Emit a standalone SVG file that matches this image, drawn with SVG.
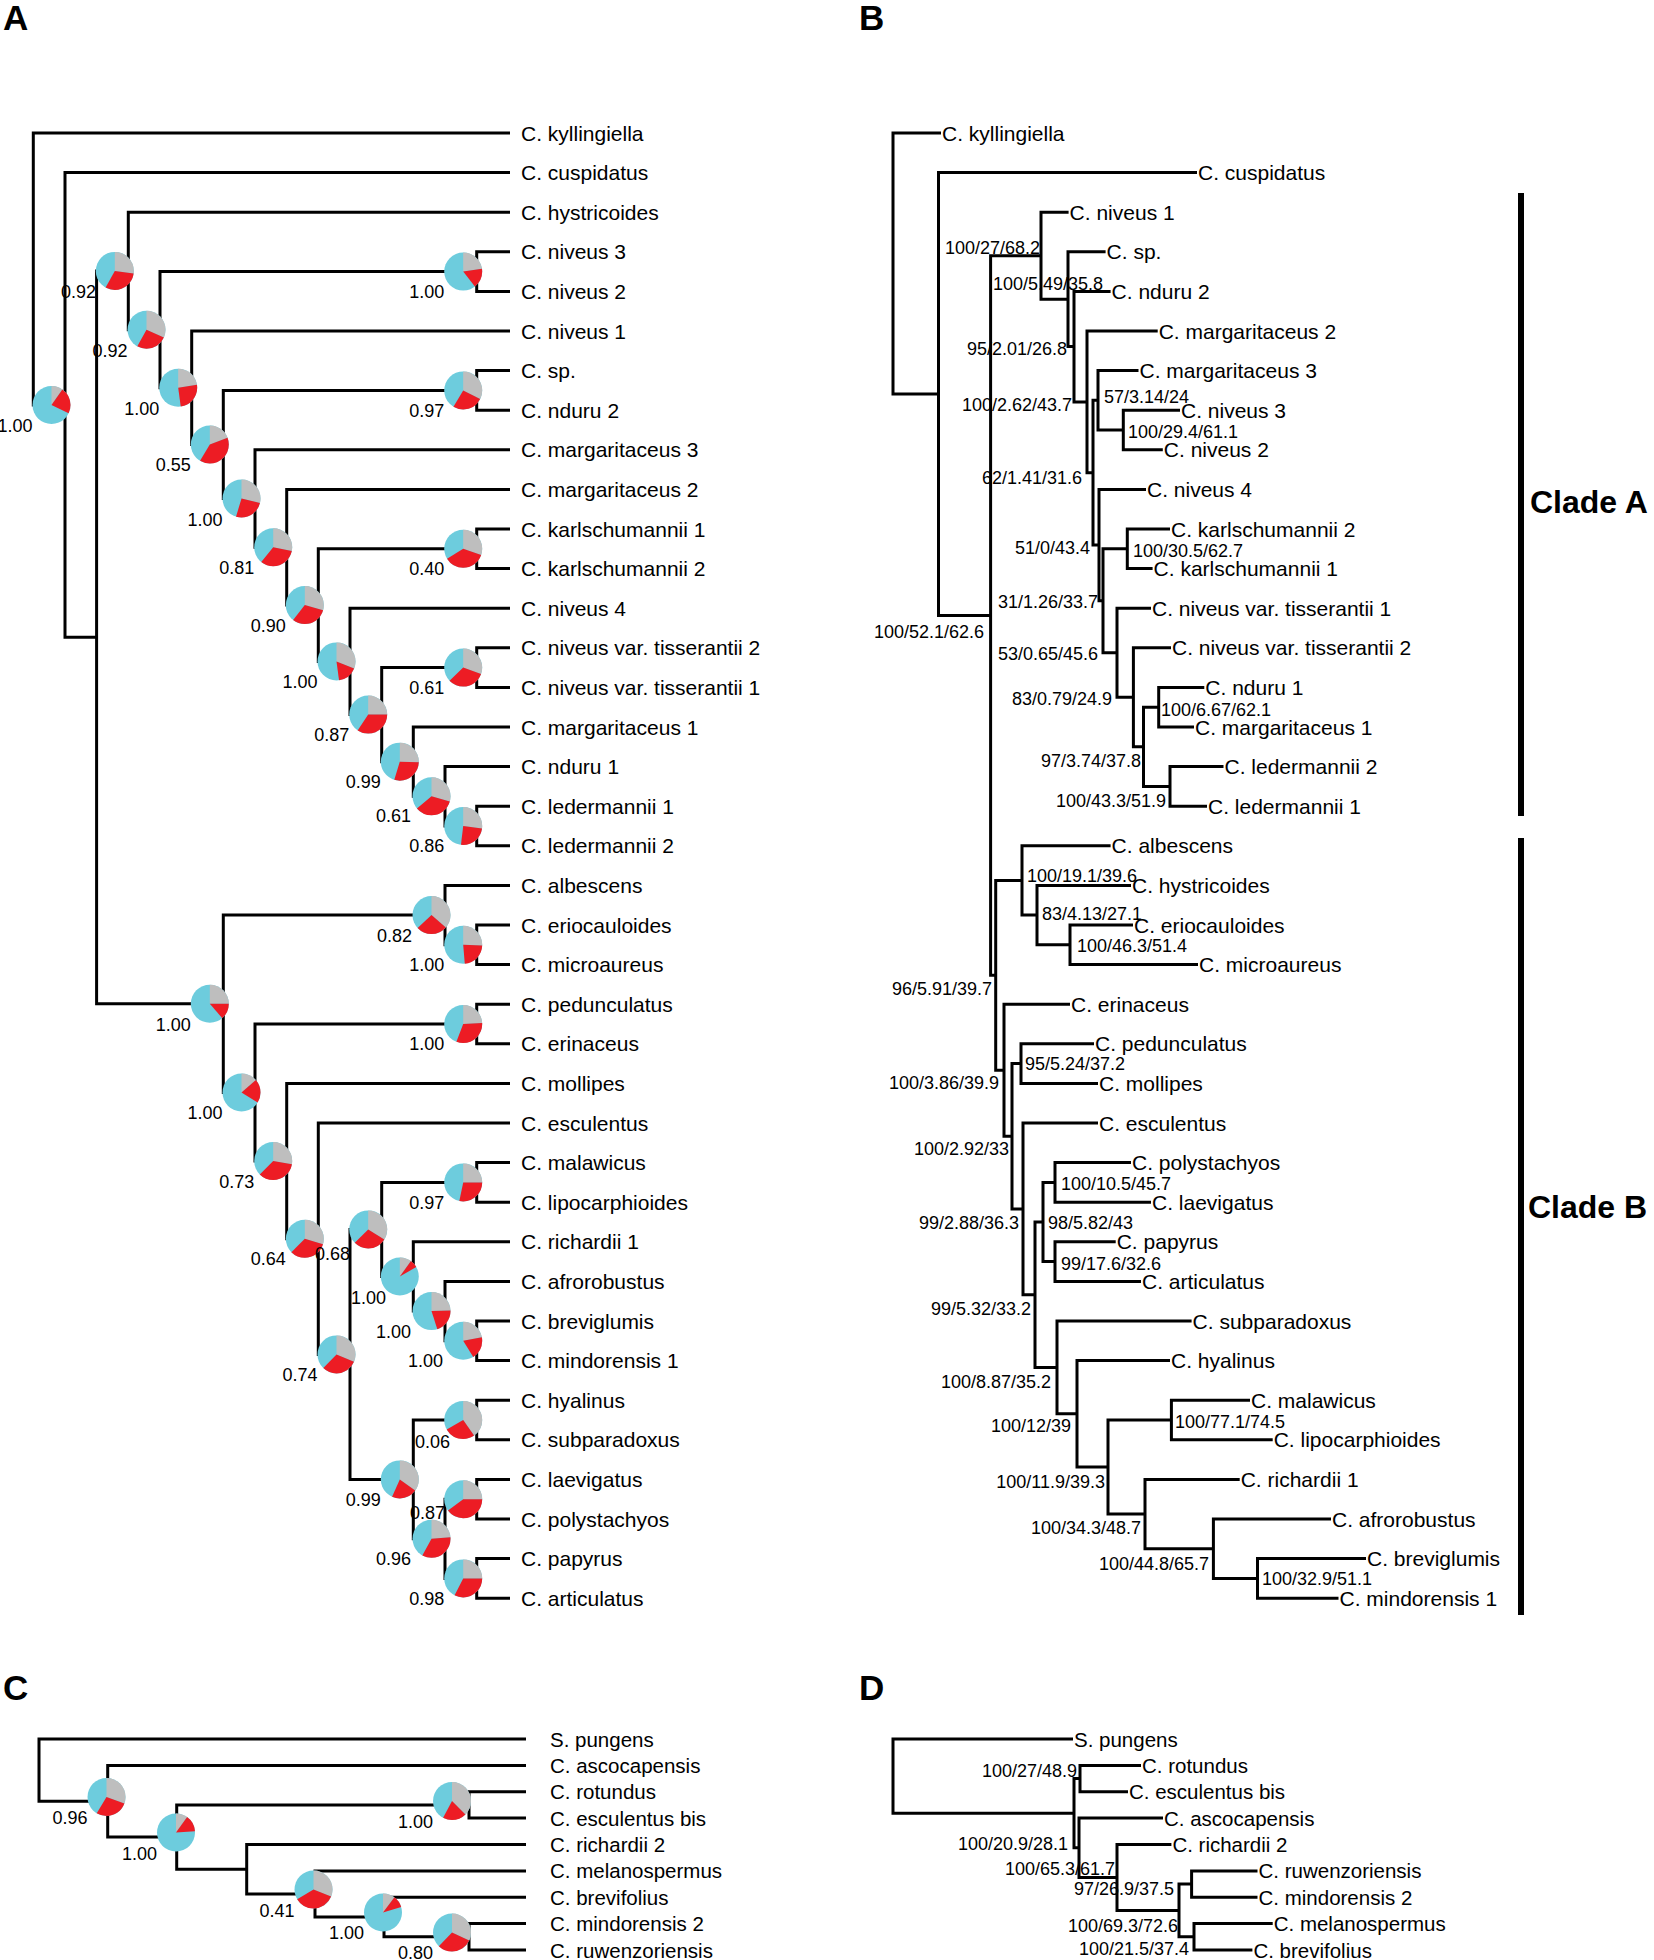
<svg xmlns="http://www.w3.org/2000/svg" width="1654" height="1960" viewBox="0 0 1654 1960">
<style>
text{font-family:"Liberation Sans",Arial,sans-serif;fill:#000}
.ln{fill:none;stroke:#000;stroke-width:3;stroke-linejoin:miter}
.lf{font-size:21px}
.lc{font-size:20.5px}
.bl{font-size:18px;text-anchor:end}
.bs{font-size:18px}
.be{font-size:18px;text-anchor:end}
.pl{font-size:35px;font-weight:bold}
.cl{font-size:32px;font-weight:bold}
.pb{fill:#6DCCDD}
.pg{fill:none;stroke:#BEBEBE;stroke-width:19}
.pr{fill:none;stroke:#ED1C24;stroke-width:19}
</style>
<rect width="1654" height="1960" fill="#fff"/>
<g id="panel-letters">
<text class="pl" x="3" y="30">A</text>
<text class="pl" x="859" y="30">B</text>
<text class="pl" x="3" y="1700">C</text>
<text class="pl" x="859" y="1700">D</text>
</g>
<g id="connectors">
<g id="A-connectors" class="ln">
<path d="M510,133 H33.3 V405 H65"/>
<path d="M510,172.6 H65 V637.35 H96.6"/>
<path d="M128.3,270.9 H96.6 V1003.8 H223.3"/>
<path d="M510,212.2 H128.3 V329.7 H160"/>
<path d="M476.7,271.6 H160 V387.7 H191.7"/>
<path d="M510,251.8 H476.7 V291.4 H510"/>
<path d="M510,331 H191.7 V444.5 H223.3"/>
<path d="M476.7,390.4 H223.3 V498.5 H255"/>
<path d="M510,370.6 H476.7 V410.2 H510"/>
<path d="M510,449.8 H255 V547.25 H286.7"/>
<path d="M510,489.4 H286.7 V605.1 H318.3"/>
<path d="M476.7,548.8 H318.3 V661.4 H350"/>
<path d="M510,529 H476.7 V568.6 H510"/>
<path d="M510,608.2 H350 V714.6 H381.7"/>
<path d="M476.7,667.6 H381.7 V761.65 H413.3"/>
<path d="M510,647.8 H476.7 V687.4 H510"/>
<path d="M510,727 H413.3 V796.3 H445"/>
<path d="M510,766.6 H445 V826 H476.7"/>
<path d="M510,806.2 H476.7 V845.8 H510"/>
<path d="M445,915.1 H223.3 V1092.5 H255"/>
<path d="M510,885.4 H445 V944.8 H476.7"/>
<path d="M510,925 H476.7 V964.6 H510"/>
<path d="M476.7,1024 H255 V1161 H286.7"/>
<path d="M510,1004.2 H476.7 V1043.8 H510"/>
<path d="M510,1083.4 H286.7 V1238.7 H318.3"/>
<path d="M510,1123 H318.3 V1354.4 H350"/>
<path d="M381.7,1229.4 H350 V1479.4 H413.3"/>
<path d="M476.7,1182.4 H381.7 V1276.5 H413.3"/>
<path d="M510,1162.6 H476.7 V1202.2 H510"/>
<path d="M510,1241.8 H413.3 V1311.1 H445"/>
<path d="M510,1281.4 H445 V1340.8 H476.7"/>
<path d="M510,1321 H476.7 V1360.6 H510"/>
<path d="M476.7,1420 H413.3 V1538.8 H445"/>
<path d="M510,1400.2 H476.7 V1439.8 H510"/>
<path d="M476.7,1499.2 H445 V1578.4 H476.7"/>
<path d="M510,1479.4 H476.7 V1519 H510"/>
<path d="M510,1558.6 H476.7 V1598.2 H510"/>
</g>
<g id="B-connectors" class="ln">
<path d="M941,133 H893 V394.1 H938.5"/>
<path d="M1197,172.6 H938.5 V615.5 H990.6"/>
<path d="M1041,255.7 H990.6 V975.3 H995.7"/>
<path d="M1068.6,212.2 H1041 V299.2 H1068"/>
<path d="M1105.6,251.8 H1068 V346.6 H1074"/>
<path d="M1110.6,291.4 H1074 V401.9 H1087"/>
<path d="M1157.7,331 H1087 V472.7 H1093"/>
<path d="M1098,400.3 H1093 V545.1 H1099"/>
<path d="M1138.5,370.6 H1098 V430 H1123.3"/>
<path d="M1180,410.2 H1123.3 V449.8 H1162.8"/>
<path d="M1146,489.4 H1099 V600.8 H1103"/>
<path d="M1127.3,548.8 H1103 V652.75 H1117"/>
<path d="M1170,529 H1127.3 V568.6 H1152.6"/>
<path d="M1151,608.2 H1117 V697.3 H1133.4"/>
<path d="M1171,647.8 H1133.4 V746.8 H1143.5"/>
<path d="M1158.7,707.2 H1143.5 V786.4 H1170"/>
<path d="M1204.3,687.4 H1158.7 V727 H1194"/>
<path d="M1223.5,766.6 H1170 V806.2 H1207"/>
<path d="M1022,880.45 H995.7 V1070.2 H1004"/>
<path d="M1110.6,845.8 H1022 V915.1 H1037"/>
<path d="M1131,885.4 H1037 V944.8 H1070"/>
<path d="M1133,925 H1070 V964.6 H1198"/>
<path d="M1070,1004.2 H1004 V1136.2 H1012"/>
<path d="M1021,1063.6 H1012 V1208.9 H1023"/>
<path d="M1094,1043.8 H1021 V1083.4 H1098"/>
<path d="M1098,1123 H1023 V1294.7 H1035"/>
<path d="M1043,1222 H1035 V1367.4 H1057"/>
<path d="M1055,1182.4 H1043 V1261.6 H1055"/>
<path d="M1131,1162.6 H1055 V1202.2 H1151"/>
<path d="M1115.7,1241.8 H1055 V1281.4 H1141"/>
<path d="M1191.6,1321 H1057 V1413.8 H1077"/>
<path d="M1170,1360.6 H1077 V1467 H1108"/>
<path d="M1171.4,1420 H1108 V1514 H1145"/>
<path d="M1250,1400.2 H1171.4 V1439.8 H1272.7"/>
<path d="M1239.7,1479.4 H1145 V1548.7 H1213.4"/>
<path d="M1331,1519 H1213.4 V1578.4 H1257.5"/>
<path d="M1366,1558.6 H1257.5 V1598.2 H1338.5"/>
</g>
<g id="C-connectors" class="ln">
<path d="M526,1739 H39 V1801.25 H107.7"/>
<path d="M526,1765.4 H107.7 V1837.1 H176.7"/>
<path d="M469,1804.9 H176.7 V1869.25 H246.7"/>
<path d="M526,1791.75 H469 V1818.1 H526"/>
<path d="M526,1844.5 H246.7 V1894 H315"/>
<path d="M526,1870.9 H315 V1917 H384"/>
<path d="M526,1897.25 H384 V1936.8 H469"/>
<path d="M526,1923.6 H469 V1950 H526"/>
</g>
<g id="D-connectors" class="ln">
<path d="M1073,1739 H893 V1813.2 H1074"/>
<path d="M1080,1778.6 H1074 V1847.8 H1079"/>
<path d="M1141,1765.4 H1080 V1791.75 H1128"/>
<path d="M1163,1818.1 H1079 V1877.5 H1117"/>
<path d="M1171.4,1844.5 H1117 V1910.4 H1179"/>
<path d="M1191.6,1884.1 H1179 V1936.8 H1194"/>
<path d="M1257.5,1870.9 H1191.6 V1897.25 H1257.5"/>
<path d="M1272.7,1923.6 H1194 V1950 H1252.4"/>
</g>
</g>
<g id="A-pies">
<g id="A-N1"><g transform="translate(51.5 405) rotate(-90)"><circle r="19" class="pb"/><circle r="9.5" class="pg" pathLength="360" stroke-dasharray="35 400"/><circle r="9.5" class="pr" pathLength="360" stroke-dasharray="81 400" stroke-dashoffset="-35"/></g><text class="bl" x="32.5" y="432">1.00</text></g>
<g id="A-N3"><g transform="translate(114.8 270.9) rotate(-90)"><circle r="19" class="pb"/><circle r="9.5" class="pg" pathLength="360" stroke-dasharray="98 400"/><circle r="9.5" class="pr" pathLength="360" stroke-dasharray="111 400" stroke-dashoffset="-98"/></g><text class="bl" x="96" y="298">0.92</text></g>
<g id="A-N4"><g transform="translate(146.5 329.7) rotate(-90)"><circle r="19" class="pb"/><circle r="9.5" class="pg" pathLength="360" stroke-dasharray="114 400"/><circle r="9.5" class="pr" pathLength="360" stroke-dasharray="95 400" stroke-dashoffset="-114"/></g><text class="bl" x="127.5" y="356.7">0.92</text></g>
<g id="A-N5"><g transform="translate(178.2 387.7) rotate(-90)"><circle r="19" class="pb"/><circle r="9.5" class="pg" pathLength="360" stroke-dasharray="81 400"/><circle r="9.5" class="pr" pathLength="360" stroke-dasharray="91 400" stroke-dashoffset="-81"/></g><text class="bl" x="159.2" y="414.7">1.00</text></g>
<g id="A-N6"><g transform="translate(209.8 444.5) rotate(-90)"><circle r="19" class="pb"/><circle r="9.5" class="pg" pathLength="360" stroke-dasharray="69 400"/><circle r="9.5" class="pr" pathLength="360" stroke-dasharray="142 400" stroke-dashoffset="-69"/></g><text class="bl" x="190.8" y="471">0.55</text></g>
<g id="A-N7"><g transform="translate(241.5 498.5) rotate(-90)"><circle r="19" class="pb"/><circle r="9.5" class="pg" pathLength="360" stroke-dasharray="104 400"/><circle r="9.5" class="pr" pathLength="360" stroke-dasharray="93 400" stroke-dashoffset="-104"/></g><text class="bl" x="222.5" y="525.5">1.00</text></g>
<g id="A-N8"><g transform="translate(273.2 547.25) rotate(-90)"><circle r="19" class="pb"/><circle r="9.5" class="pg" pathLength="360" stroke-dasharray="102 400"/><circle r="9.5" class="pr" pathLength="360" stroke-dasharray="117 400" stroke-dashoffset="-102"/></g><text class="bl" x="254.2" y="573.5">0.81</text></g>
<g id="A-N9"><g transform="translate(304.8 605.1) rotate(-90)"><circle r="19" class="pb"/><circle r="9.5" class="pg" pathLength="360" stroke-dasharray="106 400"/><circle r="9.5" class="pr" pathLength="360" stroke-dasharray="112 400" stroke-dashoffset="-106"/></g><text class="bl" x="285.8" y="631.5">0.90</text></g>
<g id="A-N10"><g transform="translate(336.5 661.4) rotate(-90)"><circle r="19" class="pb"/><circle r="9.5" class="pg" pathLength="360" stroke-dasharray="112 400"/><circle r="9.5" class="pr" pathLength="360" stroke-dasharray="60 400" stroke-dashoffset="-112"/></g><text class="bl" x="317.5" y="687.5">1.00</text></g>
<g id="A-N11"><g transform="translate(368.2 714.6) rotate(-90)"><circle r="19" class="pb"/><circle r="9.5" class="pg" pathLength="360" stroke-dasharray="90 400"/><circle r="9.5" class="pr" pathLength="360" stroke-dasharray="124 400" stroke-dashoffset="-90"/></g><text class="bl" x="349.2" y="740.5">0.87</text></g>
<g id="A-N12"><g transform="translate(399.8 761.65) rotate(-90)"><circle r="19" class="pb"/><circle r="9.5" class="pg" pathLength="360" stroke-dasharray="92 400"/><circle r="9.5" class="pr" pathLength="360" stroke-dasharray="105 400" stroke-dashoffset="-92"/></g><text class="bl" x="380.8" y="787.5">0.99</text></g>
<g id="A-N13"><g transform="translate(431.5 796.3) rotate(-90)"><circle r="19" class="pb"/><circle r="9.5" class="pg" pathLength="360" stroke-dasharray="106 400"/><circle r="9.5" class="pr" pathLength="360" stroke-dasharray="124 400" stroke-dashoffset="-106"/></g><text class="bl" x="411" y="822">0.61</text></g>
<g id="A-C1"><g transform="translate(463.2 271.6) rotate(-90)"><circle r="19" class="pb"/><circle r="9.5" class="pg" pathLength="360" stroke-dasharray="81 400"/><circle r="9.5" class="pr" pathLength="360" stroke-dasharray="61 400" stroke-dashoffset="-81"/></g><text class="bl" x="444.2" y="298">1.00</text></g>
<g id="A-C2"><g transform="translate(463.2 390.4) rotate(-90)"><circle r="19" class="pb"/><circle r="9.5" class="pg" pathLength="360" stroke-dasharray="117 400"/><circle r="9.5" class="pr" pathLength="360" stroke-dasharray="94 400" stroke-dashoffset="-117"/></g><text class="bl" x="444.2" y="416.5">0.97</text></g>
<g id="A-C3"><g transform="translate(463.2 548.8) rotate(-90)"><circle r="19" class="pb"/><circle r="9.5" class="pg" pathLength="360" stroke-dasharray="109 400"/><circle r="9.5" class="pr" pathLength="360" stroke-dasharray="129 400" stroke-dashoffset="-109"/></g><text class="bl" x="444.2" y="575">0.40</text></g>
<g id="A-C4"><g transform="translate(463.2 667.6) rotate(-90)"><circle r="19" class="pb"/><circle r="9.5" class="pg" pathLength="360" stroke-dasharray="110 400"/><circle r="9.5" class="pr" pathLength="360" stroke-dasharray="116 400" stroke-dashoffset="-110"/></g><text class="bl" x="444.2" y="694">0.61</text></g>
<g id="A-C5"><g transform="translate(463.2 826) rotate(-90)"><circle r="19" class="pb"/><circle r="9.5" class="pg" pathLength="360" stroke-dasharray="98 400"/><circle r="9.5" class="pr" pathLength="360" stroke-dasharray="89 400" stroke-dashoffset="-98"/></g><text class="bl" x="444.2" y="852">0.86</text></g>
<g id="A-NB"><g transform="translate(209.8 1003.8) rotate(-90)"><circle r="19" class="pb"/><circle r="9.5" class="pg" pathLength="360" stroke-dasharray="90 400"/><circle r="9.5" class="pr" pathLength="360" stroke-dasharray="49 400" stroke-dashoffset="-90"/></g><text class="bl" x="190.8" y="1030.5">1.00</text></g>
<g id="A-NA1"><g transform="translate(431.5 915.1) rotate(-90)"><circle r="19" class="pb"/><circle r="9.5" class="pg" pathLength="360" stroke-dasharray="131 400"/><circle r="9.5" class="pr" pathLength="360" stroke-dasharray="96 400" stroke-dashoffset="-131"/></g><text class="bl" x="412" y="941.5">0.82</text></g>
<g id="A-C6"><g transform="translate(463.2 944.8) rotate(-90)"><circle r="19" class="pb"/><circle r="9.5" class="pg" pathLength="360" stroke-dasharray="92 400"/><circle r="9.5" class="pr" pathLength="360" stroke-dasharray="83 400" stroke-dashoffset="-92"/></g><text class="bl" x="444.2" y="971">1.00</text></g>
<g id="A-NC"><g transform="translate(241.5 1092.5) rotate(-90)"><circle r="19" class="pb"/><circle r="9.5" class="pg" pathLength="360" stroke-dasharray="49 400"/><circle r="9.5" class="pr" pathLength="360" stroke-dasharray="73 400" stroke-dashoffset="-49"/></g><text class="bl" x="222.5" y="1119">1.00</text></g>
<g id="A-C7"><g transform="translate(463.2 1024) rotate(-90)"><circle r="19" class="pb"/><circle r="9.5" class="pg" pathLength="360" stroke-dasharray="87 400"/><circle r="9.5" class="pr" pathLength="360" stroke-dasharray="114 400" stroke-dashoffset="-87"/></g><text class="bl" x="444.2" y="1050">1.00</text></g>
<g id="A-ND"><g transform="translate(273.2 1161) rotate(-90)"><circle r="19" class="pb"/><circle r="9.5" class="pg" pathLength="360" stroke-dasharray="100 400"/><circle r="9.5" class="pr" pathLength="360" stroke-dasharray="125 400" stroke-dashoffset="-100"/></g><text class="bl" x="254.2" y="1187.5">0.73</text></g>
<g id="A-NE"><g transform="translate(304.8 1238.7) rotate(-90)"><circle r="19" class="pb"/><circle r="9.5" class="pg" pathLength="360" stroke-dasharray="107 400"/><circle r="9.5" class="pr" pathLength="360" stroke-dasharray="118 400" stroke-dashoffset="-107"/></g><text class="bl" x="285.8" y="1265">0.64</text></g>
<g id="A-NF"><g transform="translate(336.5 1354.4) rotate(-90)"><circle r="19" class="pb"/><circle r="9.5" class="pg" pathLength="360" stroke-dasharray="113 400"/><circle r="9.5" class="pr" pathLength="360" stroke-dasharray="111 400" stroke-dashoffset="-113"/></g><text class="bl" x="317.5" y="1381">0.74</text></g>
<g id="A-NG"><g transform="translate(368.2 1229.4) rotate(-90)"><circle r="19" class="pb"/><circle r="9.5" class="pg" pathLength="360" stroke-dasharray="122 400"/><circle r="9.5" class="pr" pathLength="360" stroke-dasharray="103 400" stroke-dashoffset="-122"/></g><text class="bl" x="350" y="1260">0.68</text></g>
<g id="A-C8"><g transform="translate(463.2 1182.4) rotate(-90)"><circle r="19" class="pb"/><circle r="9.5" class="pg" pathLength="360" stroke-dasharray="90 400"/><circle r="9.5" class="pr" pathLength="360" stroke-dasharray="102 400" stroke-dashoffset="-90"/></g><text class="bl" x="444.2" y="1208.5">0.97</text></g>
<g id="A-NI"><g transform="translate(399.8 1276.5) rotate(-90)"><circle r="19" class="pb"/><circle r="9.5" class="pg" pathLength="360" stroke-dasharray="36 400"/><circle r="9.5" class="pr" pathLength="360" stroke-dasharray="24 400" stroke-dashoffset="-36"/></g><text class="bl" x="386" y="1304">1.00</text></g>
<g id="A-NJ"><g transform="translate(431.5 1311.1) rotate(-90)"><circle r="19" class="pb"/><circle r="9.5" class="pg" pathLength="360" stroke-dasharray="88 400"/><circle r="9.5" class="pr" pathLength="360" stroke-dasharray="74 400" stroke-dashoffset="-88"/></g><text class="bl" x="411" y="1337.5">1.00</text></g>
<g id="A-C9"><g transform="translate(463.2 1340.8) rotate(-90)"><circle r="19" class="pb"/><circle r="9.5" class="pg" pathLength="360" stroke-dasharray="79 400"/><circle r="9.5" class="pr" pathLength="360" stroke-dasharray="69 400" stroke-dashoffset="-79"/></g><text class="bl" x="443" y="1367">1.00</text></g>
<g id="A-NH"><g transform="translate(399.8 1479.4) rotate(-90)"><circle r="19" class="pb"/><circle r="9.5" class="pg" pathLength="360" stroke-dasharray="126 400"/><circle r="9.5" class="pr" pathLength="360" stroke-dasharray="78 400" stroke-dashoffset="-126"/></g><text class="bl" x="380.8" y="1506">0.99</text></g>
<g id="A-C10"><g transform="translate(463.2 1420) rotate(-90)"><circle r="19" class="pb"/><circle r="9.5" class="pg" pathLength="360" stroke-dasharray="145 400"/><circle r="9.5" class="pr" pathLength="360" stroke-dasharray="95 400" stroke-dashoffset="-145"/></g><text class="bl" x="450" y="1447.5">0.06</text></g>
<g id="A-NK"><g transform="translate(431.5 1538.8) rotate(-90)"><circle r="19" class="pb"/><circle r="9.5" class="pg" pathLength="360" stroke-dasharray="85 400"/><circle r="9.5" class="pr" pathLength="360" stroke-dasharray="124 400" stroke-dashoffset="-85"/></g><text class="bl" x="411" y="1565">0.96</text></g>
<g id="A-C11"><g transform="translate(463.2 1499.2) rotate(-90)"><circle r="19" class="pb"/><circle r="9.5" class="pg" pathLength="360" stroke-dasharray="90 400"/><circle r="9.5" class="pr" pathLength="360" stroke-dasharray="143 400" stroke-dashoffset="-90"/></g><text class="bl" x="445" y="1518.5">0.87</text></g>
<g id="A-C12"><g transform="translate(463.2 1578.4) rotate(-90)"><circle r="19" class="pb"/><circle r="9.5" class="pg" pathLength="360" stroke-dasharray="90 400"/><circle r="9.5" class="pr" pathLength="360" stroke-dasharray="117 400" stroke-dashoffset="-90"/></g><text class="bl" x="444.2" y="1604.5">0.98</text></g>
</g>
<g id="A-leaves" class="lf">
<g id="A-L0"><text x="521" y="140.5">C. kyllingiella</text></g>
<g id="A-L1"><text x="521" y="180.1">C. cuspidatus</text></g>
<g id="A-L2"><text x="521" y="219.7">C. hystricoides</text></g>
<g id="A-L3"><text x="521" y="259.3">C. niveus 3</text></g>
<g id="A-L4"><text x="521" y="298.9">C. niveus 2</text></g>
<g id="A-L5"><text x="521" y="338.5">C. niveus 1</text></g>
<g id="A-L6"><text x="521" y="378.1">C. sp.</text></g>
<g id="A-L7"><text x="521" y="417.7">C. nduru 2</text></g>
<g id="A-L8"><text x="521" y="457.3">C. margaritaceus 3</text></g>
<g id="A-L9"><text x="521" y="496.9">C. margaritaceus 2</text></g>
<g id="A-L10"><text x="521" y="536.5">C. karlschumannii 1</text></g>
<g id="A-L11"><text x="521" y="576.1">C. karlschumannii 2</text></g>
<g id="A-L12"><text x="521" y="615.7">C. niveus 4</text></g>
<g id="A-L13"><text x="521" y="655.3">C. niveus var. tisserantii 2</text></g>
<g id="A-L14"><text x="521" y="694.9">C. niveus var. tisserantii 1</text></g>
<g id="A-L15"><text x="521" y="734.5">C. margaritaceus 1</text></g>
<g id="A-L16"><text x="521" y="774.1">C. nduru 1</text></g>
<g id="A-L17"><text x="521" y="813.7">C. ledermannii 1</text></g>
<g id="A-L18"><text x="521" y="853.3">C. ledermannii 2</text></g>
<g id="A-L19"><text x="521" y="892.9">C. albescens</text></g>
<g id="A-L20"><text x="521" y="932.5">C. eriocauloides</text></g>
<g id="A-L21"><text x="521" y="972.1">C. microaureus</text></g>
<g id="A-L22"><text x="521" y="1011.7">C. pedunculatus</text></g>
<g id="A-L23"><text x="521" y="1051.3">C. erinaceus</text></g>
<g id="A-L24"><text x="521" y="1090.9">C. mollipes</text></g>
<g id="A-L25"><text x="521" y="1130.5">C. esculentus</text></g>
<g id="A-L26"><text x="521" y="1170.1">C. malawicus</text></g>
<g id="A-L27"><text x="521" y="1209.7">C. lipocarphioides</text></g>
<g id="A-L28"><text x="521" y="1249.3">C. richardii 1</text></g>
<g id="A-L29"><text x="521" y="1288.9">C. afrorobustus</text></g>
<g id="A-L30"><text x="521" y="1328.5">C. breviglumis</text></g>
<g id="A-L31"><text x="521" y="1368.1">C. mindorensis 1</text></g>
<g id="A-L32"><text x="521" y="1407.7">C. hyalinus</text></g>
<g id="A-L33"><text x="521" y="1447.3">C. subparadoxus</text></g>
<g id="A-L34"><text x="521" y="1486.9">C. laevigatus</text></g>
<g id="A-L35"><text x="521" y="1526.5">C. polystachyos</text></g>
<g id="A-L36"><text x="521" y="1566.1">C. papyrus</text></g>
<g id="A-L37"><text x="521" y="1605.7">C. articulatus</text></g>
</g>
<g id="B-leaves" class="lf">
<g id="B-L0"><text x="942" y="140.5">C. kyllingiella</text></g>
<g id="B-L1"><text x="1198" y="180.1">C. cuspidatus</text></g>
<g id="B-L2"><text x="1069.6" y="219.7">C. niveus 1</text></g>
<g id="B-L3"><text x="1106.6" y="259.3">C. sp.</text></g>
<g id="B-L4"><text x="1111.6" y="298.9">C. nduru 2</text></g>
<g id="B-L5"><text x="1158.7" y="338.5">C. margaritaceus 2</text></g>
<g id="B-L6"><text x="1139.5" y="378.1">C. margaritaceus 3</text></g>
<g id="B-L7"><text x="1181" y="417.7">C. niveus 3</text></g>
<g id="B-L8"><text x="1163.8" y="457.3">C. niveus 2</text></g>
<g id="B-L9"><text x="1147" y="496.9">C. niveus 4</text></g>
<g id="B-L10"><text x="1171" y="536.5">C. karlschumannii 2</text></g>
<g id="B-L11"><text x="1153.6" y="576.1">C. karlschumannii 1</text></g>
<g id="B-L12"><text x="1152" y="615.7">C. niveus var. tisserantii 1</text></g>
<g id="B-L13"><text x="1172" y="655.3">C. niveus var. tisserantii 2</text></g>
<g id="B-L14"><text x="1205.3" y="694.9">C. nduru 1</text></g>
<g id="B-L15"><text x="1195" y="734.5">C. margaritaceus 1</text></g>
<g id="B-L16"><text x="1224.5" y="774.1">C. ledermannii 2</text></g>
<g id="B-L17"><text x="1208" y="813.7">C. ledermannii 1</text></g>
<g id="B-L18"><text x="1111.6" y="853.3">C. albescens</text></g>
<g id="B-L19"><text x="1132" y="892.9">C. hystricoides</text></g>
<g id="B-L20"><text x="1134" y="932.5">C. eriocauloides</text></g>
<g id="B-L21"><text x="1199" y="972.1">C. microaureus</text></g>
<g id="B-L22"><text x="1071" y="1011.7">C. erinaceus</text></g>
<g id="B-L23"><text x="1095" y="1051.3">C. pedunculatus</text></g>
<g id="B-L24"><text x="1099" y="1090.9">C. mollipes</text></g>
<g id="B-L25"><text x="1099" y="1130.5">C. esculentus</text></g>
<g id="B-L26"><text x="1132" y="1170.1">C. polystachyos</text></g>
<g id="B-L27"><text x="1152" y="1209.7">C. laevigatus</text></g>
<g id="B-L28"><text x="1116.7" y="1249.3">C. papyrus</text></g>
<g id="B-L29"><text x="1142" y="1288.9">C. articulatus</text></g>
<g id="B-L30"><text x="1192.6" y="1328.5">C. subparadoxus</text></g>
<g id="B-L31"><text x="1171" y="1368.1">C. hyalinus</text></g>
<g id="B-L32"><text x="1251" y="1407.7">C. malawicus</text></g>
<g id="B-L33"><text x="1273.7" y="1447.3">C. lipocarphioides</text></g>
<g id="B-L34"><text x="1240.7" y="1486.9">C. richardii 1</text></g>
<g id="B-L35"><text x="1332" y="1526.5">C. afrorobustus</text></g>
<g id="B-L36"><text x="1367" y="1566.1">C. breviglumis</text></g>
<g id="B-L37"><text x="1339.5" y="1605.7">C. mindorensis 1</text></g>
</g>
<g id="B-support">
<text class="be" x="984" y="637.5">100/52.1/62.6</text>
<text class="be" x="1040" y="253.5">100/27/68.2</text>
<text class="bs" x="993" y="290">100/5.49/35.8</text>
<text class="be" x="1067" y="355">95/2.01/26.8</text>
<text class="be" x="1072" y="410.5">100/2.62/43.7</text>
<text class="be" x="1082" y="483.5">62/1.41/31.6</text>
<text class="bs" x="1104" y="403">57/3.14/24</text>
<text class="bs" x="1128" y="437.5">100/29.4/61.1</text>
<text class="be" x="1090" y="553.5">51/0/43.4</text>
<text class="bs" x="1133" y="557">100/30.5/62.7</text>
<text class="be" x="1098" y="608">31/1.26/33.7</text>
<text class="be" x="1098" y="660">53/0.65/45.6</text>
<text class="be" x="1112" y="705">83/0.79/24.9</text>
<text class="bs" x="1161" y="716">100/6.67/62.1</text>
<text class="be" x="1141" y="767">97/3.74/37.8</text>
<text class="be" x="1166" y="807">100/43.3/51.9</text>
<text class="be" x="992" y="995">96/5.91/39.7</text>
<text class="bs" x="1027" y="882">100/19.1/39.6</text>
<text class="bs" x="1042" y="920">83/4.13/27.1</text>
<text class="bs" x="1077" y="952">100/46.3/51.4</text>
<text class="be" x="999" y="1088.5">100/3.86/39.9</text>
<text class="bs" x="1025" y="1069.5">95/5.24/37.2</text>
<text class="be" x="1009" y="1155">100/2.92/33</text>
<text class="be" x="1019" y="1228.5">99/2.88/36.3</text>
<text class="bs" x="1061" y="1189.5">100/10.5/45.7</text>
<text class="bs" x="1048" y="1228.5">98/5.82/43</text>
<text class="bs" x="1061" y="1269.5">99/17.6/32.6</text>
<text class="be" x="1031" y="1315">99/5.32/33.2</text>
<text class="be" x="1051" y="1387.5">100/8.87/35.2</text>
<text class="be" x="1071" y="1432">100/12/39</text>
<text class="bs" x="1175" y="1427.5">100/77.1/74.5</text>
<text class="be" x="1105" y="1488">100/11.9/39.3</text>
<text class="be" x="1141" y="1533.5">100/34.3/48.7</text>
<text class="be" x="1209" y="1570">100/44.8/65.7</text>
<text class="bs" x="1262" y="1585">100/32.9/51.1</text>
</g>
<g id="clades">
<rect x="1518" y="193" width="6" height="623" fill="#000"/>
<rect x="1518" y="838" width="6" height="777" fill="#000"/>
<text class="cl" x="1530" y="513">Clade A</text>
<text class="cl" x="1528" y="1218">Clade B</text>
</g>
<g id="C-pies">
<g id="C-N1"><g transform="translate(106.5 1797) rotate(-90)"><circle r="19" class="pb"/><circle r="9.5" class="pg" pathLength="360" stroke-dasharray="110 400"/><circle r="9.5" class="pr" pathLength="360" stroke-dasharray="101 400" stroke-dashoffset="-110"/></g><text class="bl" x="87.5" y="1823.5">0.96</text></g>
<g id="C-N2"><g transform="translate(176 1832.5) rotate(-90)"><circle r="19" class="pb"/><circle r="9.5" class="pg" pathLength="360" stroke-dasharray="36 400"/><circle r="9.5" class="pr" pathLength="360" stroke-dasharray="50 400" stroke-dashoffset="-36"/></g><text class="bl" x="157" y="1859.5">1.00</text></g>
<g id="C-N3"><g transform="translate(452 1801) rotate(-90)"><circle r="19" class="pb"/><circle r="9.5" class="pg" pathLength="360" stroke-dasharray="135 400"/><circle r="9.5" class="pr" pathLength="360" stroke-dasharray="73 400" stroke-dashoffset="-135"/></g><text class="bl" x="433" y="1827.5">1.00</text></g>
<g id="C-N4"><g transform="translate(313.5 1889.5) rotate(-90)"><circle r="19" class="pb"/><circle r="9.5" class="pg" pathLength="360" stroke-dasharray="112 400"/><circle r="9.5" class="pr" pathLength="360" stroke-dasharray="127 400" stroke-dashoffset="-112"/></g><text class="bl" x="294.5" y="1916.5">0.41</text></g>
<g id="C-N5"><g transform="translate(383 1912.5) rotate(-90)"><circle r="19" class="pb"/><circle r="9.5" class="pg" pathLength="360" stroke-dasharray="37 400"/><circle r="9.5" class="pr" pathLength="360" stroke-dasharray="36 400" stroke-dashoffset="-37"/></g><text class="bl" x="364" y="1939">1.00</text></g>
<g id="C-N6"><g transform="translate(452 1932.5) rotate(-90)"><circle r="19" class="pb"/><circle r="9.5" class="pg" pathLength="360" stroke-dasharray="115 400"/><circle r="9.5" class="pr" pathLength="360" stroke-dasharray="109 400" stroke-dashoffset="-115"/></g><text class="bl" x="433" y="1958.5">0.80</text></g>
</g>
<g id="C-leaves" class="lc">
<g id="C-L0"><text x="550" y="1746.5">S. pungens</text></g>
<g id="C-L1"><text x="550" y="1772.9">C. ascocapensis</text></g>
<g id="C-L2"><text x="550" y="1799.2">C. rotundus</text></g>
<g id="C-L3"><text x="550" y="1825.6">C. esculentus bis</text></g>
<g id="C-L4"><text x="550" y="1852">C. richardii 2</text></g>
<g id="C-L5"><text x="550" y="1878.4">C. melanospermus</text></g>
<g id="C-L6"><text x="550" y="1904.7">C. brevifolius</text></g>
<g id="C-L7"><text x="550" y="1931.1">C. mindorensis 2</text></g>
<g id="C-L8"><text x="550" y="1957.5">C. ruwenzoriensis</text></g>
</g>
<g id="D-leaves" class="lc">
<g id="D-L0"><text x="1074" y="1746.5">S. pungens</text></g>
<g id="D-L1"><text x="1142" y="1772.9">C. rotundus</text></g>
<g id="D-L2"><text x="1129" y="1799.2">C. esculentus bis</text></g>
<g id="D-L3"><text x="1164" y="1825.6">C. ascocapensis</text></g>
<g id="D-L4"><text x="1172.4" y="1852">C. richardii 2</text></g>
<g id="D-L5"><text x="1258.5" y="1878.4">C. ruwenzoriensis</text></g>
<g id="D-L6"><text x="1258.5" y="1904.7">C. mindorensis 2</text></g>
<g id="D-L7"><text x="1273.7" y="1931.1">C. melanospermus</text></g>
<g id="D-L8"><text x="1253.4" y="1957.5">C. brevifolius</text></g>
</g>
<g id="D-support">
<text class="be" x="1077" y="1777">100/27/48.9</text>
<text class="be" x="1068" y="1849.5">100/20.9/28.1</text>
<text class="be" x="1115" y="1875">100/65.3/61.7</text>
<text class="be" x="1174" y="1895">97/26.9/37.5</text>
<text class="be" x="1178" y="1932">100/69.3/72.6</text>
<text class="be" x="1189" y="1955">100/21.5/37.4</text>
</g>
</svg>
